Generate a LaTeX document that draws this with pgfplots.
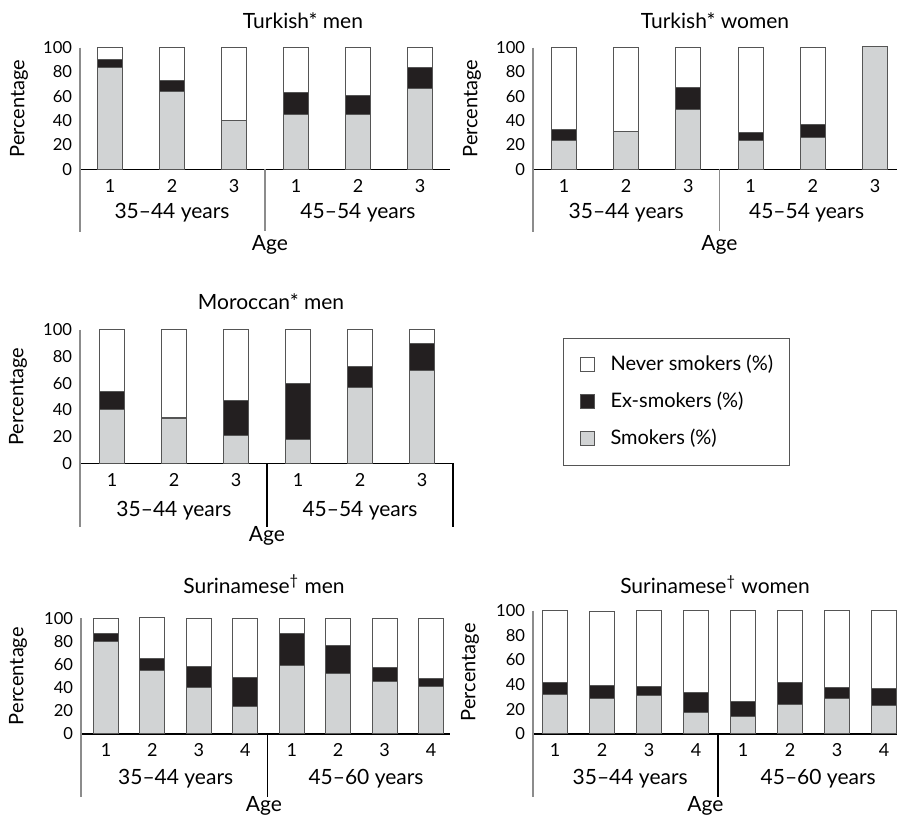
\documentclass[border=0pt]{standalone}
\usepackage{pgfplots}
\pgfplotsset{compat=1.18}
\usepackage{fontspec}
\setmainfont{Lato}
\definecolor{smk}{HTML}{D1D3D4}
\definecolor{exs}{HTML}{231F20}
\definecolor{outl}{HTML}{555555}
\definecolor{axg}{HTML}{8C8C8C}
\newcommand{\grp}{\fontsize{10.5}{12}\selectfont}
\newcommand{\ttl}{\fontsize{10.5}{12}\selectfont}
\newcommand{\ylab}{\fontsize{10}{12}\selectfont}
\pgfplotsset{
  panel/.style={
    scale only axis, ybar stacked, bar width=12.5pt, clip=false,
    ymin=0, ymax=100, ytick={0,20,40,60,80,100},
    axis line style={draw=none}, major tick style={draw=none},
    xtick=data,
    /pgf/number format/assume math mode=true,
    yticklabel style={anchor=east, inner sep=0pt, xshift=-3.75pt, font=\fontsize{8.3}{9}\selectfont},
    xticklabel style={anchor=base, inner sep=0pt, yshift=-11.5pt, font=\fontsize{9}{10}\selectfont},
    anchor=south west,
  },
  sbar/.style={fill=smk, draw=outl, line width=0.5pt},
  ebar/.style={fill=exs, draw=outl, line width=0.5pt},
  nbar/.style={fill=white, draw=outl, line width=0.5pt},
}
\begin{document}
\begin{tikzpicture}
\useasboundingbox (0,0) rectangle (448.5pt,408.5pt);
% titles
\node[font=\ttl, anchor=base] at (151.5pt,394.3pt) {Turkish* men};
\node[font=\ttl, anchor=base] at (357.5pt,394.3pt) {Turkish* women};
\node[font=\ttl, anchor=base] at (135.5pt,253.5pt) {Moroccan* men};
\node[font=\ttl, anchor=base] at (132pt,111.8pt) {Surinamese\textsuperscript{\textdagger} men};
\node[font=\ttl, anchor=base] at (357.5pt,111.5pt) {Surinamese\textsuperscript{\textdagger} women};

% Panel 1: Turkish men
\begin{axis}[panel, at={(40pt,323.85pt)}, width=185pt, height=60.8pt,
  xmin=0.516, xmax=6.484, xticklabels={1,2,3,1,2,3}]
\addplot[sbar] coordinates {(1,84) (2,64) (3,40.5) (4,45) (5,45) (6,66.5)};
\addplot[ebar] coordinates {(1,6.5) (2,9) (3,0) (4,18) (5,16) (6,17)};
\addplot[nbar] coordinates {(1,9.5) (2,27) (3,59.5) (4,37) (5,39) (6,16.5)};
\draw[axg, line width=0.7pt] (rel axis cs:0,1) -- ([yshift=-31.5pt]rel axis cs:0,0);
\draw[axg, line width=0.6pt] (axis cs:3.5,0) -- ([yshift=-31pt]axis cs:3.5,0);
\draw[black, line width=0.6pt] (rel axis cs:0,0) -- (rel axis cs:1,0);
\node[font=\grp, anchor=base] at ([yshift=-24.5pt]axis cs:2,0) {35–44 years};
\node[font=\grp, anchor=base] at ([yshift=-24.5pt]axis cs:5,0) {45–54 years};
\node[font=\grp, anchor=base] at ([yshift=-40.5pt]axis cs:3.58,0) {Age};
\node[font=\ylab, rotate=90] at ([xshift=-30.5pt]rel axis cs:0,0.5) {Percentage};
\end{axis}

% Panel 2: Turkish women
\begin{axis}[panel, at={(266.5pt,323.85pt)}, width=182pt, height=60.8pt,
  xmin=0.5016, xmax=6.354, xticklabels={1,2,3,1,2,3}]
\addplot[sbar] coordinates {(1,24) (2,31) (3,49.5) (4,23.5) (5,26.5) (6,101)};
\addplot[ebar] coordinates {(1,9) (2,0) (3,18) (4,6.5) (5,10) (6,0)};
\addplot[nbar] coordinates {(1,67) (2,69) (3,32.5) (4,70) (5,63.5) (6,0)};
\draw[axg, line width=0.7pt] (rel axis cs:0,1) -- ([yshift=-31.5pt]rel axis cs:0,0);
\draw[axg, line width=0.6pt] (axis cs:3.5,0) -- ([yshift=-31pt]axis cs:3.5,0);
\draw[black, line width=0.6pt] (rel axis cs:0,0) -- (rel axis cs:1,0);
\node[font=\grp, anchor=base] at ([yshift=-24.5pt]axis cs:2,0) {35–44 years};
\node[font=\grp, anchor=base] at ([yshift=-24.5pt]axis cs:4.9,0) {45–54 years};
\node[font=\grp, anchor=base] at ([yshift=-40.5pt]axis cs:3.5,0) {Age};
\node[font=\ylab, rotate=90] at ([xshift=-30.5pt]rel axis cs:0,0.5) {Percentage};
\end{axis}

% Panel 3: Moroccan men (with legend)
\begin{axis}[panel, at={(40pt,176.85pt)}, width=186.5pt, height=66.67pt,
  xmin=0.484, xmax=6.5, xticklabels={1,2,3,1,2,3},
  legend style={at={(axis description cs:1.2949,0.94)}, anchor=north west,
    draw=outl, line width=0.5pt, inner xsep=8pt, inner ysep=8.5pt, row sep=9.25pt,
    font=\fontsize{10}{12}\selectfont, cells={anchor=west},
    nodes={inner sep=0pt, text height=7.3pt, text depth=2pt},
    /tikz/every odd column/.append style={column sep=8pt}},
  legend image code/.code={\draw[#1] (0pt,-3.5pt) rectangle (7pt,3.5pt);}]
\addplot[sbar, forget plot] coordinates {(1,40.5) (2,33.5) (3,20.5) (4,17.5) (5,56.5) (6,69.5)};
\addplot[ebar, forget plot] coordinates {(1,13) (2,0.5) (3,26.5) (4,42) (5,16) (6,20.5)};
\addplot[nbar, forget plot] coordinates {(1,46.5) (2,66) (3,53) (4,40.5) (5,27.5) (6,10)};
\addlegendimage{nbar}\addlegendentry{Never smokers (\%)}
\addlegendimage{ebar}\addlegendentry{Ex-smokers (\%)}
\addlegendimage{sbar}\addlegendentry{Smokers (\%)}
\draw[axg, line width=0.7pt] (rel axis cs:0,1) -- ([yshift=-32pt]rel axis cs:0,0);
\draw[black, line width=0.6pt] (axis cs:3.5,0) -- ([yshift=-32pt]axis cs:3.5,0);
\draw[black, line width=0.6pt] (rel axis cs:1,0) -- ([yshift=-32pt]rel axis cs:1,0);
\draw[black, line width=0.6pt] (rel axis cs:0,0) -- (rel axis cs:1,0);
\node[font=\grp, anchor=base] at ([yshift=-26.5pt]axis cs:2,0) {35–44 years};
\node[font=\grp, anchor=base] at ([yshift=-26.5pt]axis cs:5,0) {45–54 years};
\node[font=\grp, anchor=base] at ([yshift=-39pt]axis cs:3.5,0) {Age};
\node[font=\ylab, rotate=90] at ([xshift=-31pt]rel axis cs:0,0.5) {Percentage};
\end{axis}

% Panel 4: Surinamese men
\begin{axis}[panel, at={(40.5pt,41.5pt)}, width=184.5pt, height=57.85pt,
  xmin=0.4616, xmax=8.409, xticklabels={1,2,3,4,1,2,3,4}]
\addplot[sbar] coordinates {(1,80) (2,55) (3,40) (4,24) (5,59) (6,52.5) (7,45.5) (8,41)};
\addplot[ebar] coordinates {(1,6.5) (2,10) (3,18.5) (4,24.5) (5,28) (6,24) (7,12) (8,7)};
\addplot[nbar] coordinates {(1,13.5) (2,36) (3,41.5) (4,51) (5,13) (6,23) (7,42.5) (8,52)};
\draw[axg, line width=0.7pt] (rel axis cs:0,1) -- ([yshift=-31.5pt]rel axis cs:0,0);
\draw[black, line width=0.6pt] (axis cs:4.47,0) -- ([yshift=-31.5pt]axis cs:4.47,0);
\draw[black, line width=0.6pt] (rel axis cs:0,0) -- (rel axis cs:1,0);
\node[font=\grp, anchor=base] at ([yshift=-25pt]axis cs:2.5,0) {35–44 years};
\node[font=\grp, anchor=base] at ([yshift=-25pt]axis cs:6.6,0) {45–60 years};
\node[font=\grp, anchor=base] at ([yshift=-38.8pt]axis cs:4.4,0) {Age};
\node[font=\ylab, rotate=90] at ([xshift=-31.5pt]rel axis cs:0,0.5) {Percentage};
\end{axis}

% Panel 5: Surinamese women
\begin{axis}[panel, at={(266.5pt,41.5pt)}, width=182pt, height=61.65pt,
  xmin=0.532, xmax=8.277, xticklabels={1,2,3,4,1,2,3,4}]
\addplot[sbar] coordinates {(1,32) (2,28.5) (3,31) (4,17.5) (5,14) (6,24) (7,29) (8,23)};
\addplot[ebar] coordinates {(1,9.5) (2,11) (3,7.5) (4,16.5) (5,12) (6,17.5) (7,8.5) (8,14)};
\addplot[nbar] coordinates {(1,58.5) (2,59.7) (3,61.5) (4,66) (5,74) (6,58.5) (7,62.5) (8,63.5)};
\draw[axg, line width=0.7pt] (rel axis cs:0,1) -- ([yshift=-31.5pt]rel axis cs:0,0);
\draw[black, line width=0.6pt] (axis cs:4.468,0) -- ([yshift=-31.5pt]axis cs:4.468,0);
\draw[black, line width=0.6pt] (rel axis cs:0,0) -- (rel axis cs:1,0);
\node[font=\grp, anchor=base] at ([yshift=-25pt]axis cs:2.6,0) {35–44 years};
\node[font=\grp, anchor=base] at ([yshift=-25pt]axis cs:6.6,0) {45–60 years};
\node[font=\grp, anchor=base] at ([yshift=-38.8pt]axis cs:4.2,0) {Age};
\node[font=\ylab, rotate=90] at ([xshift=-31.5pt]rel axis cs:0,0.5) {Percentage};
\end{axis}
\end{tikzpicture}
\end{document}
